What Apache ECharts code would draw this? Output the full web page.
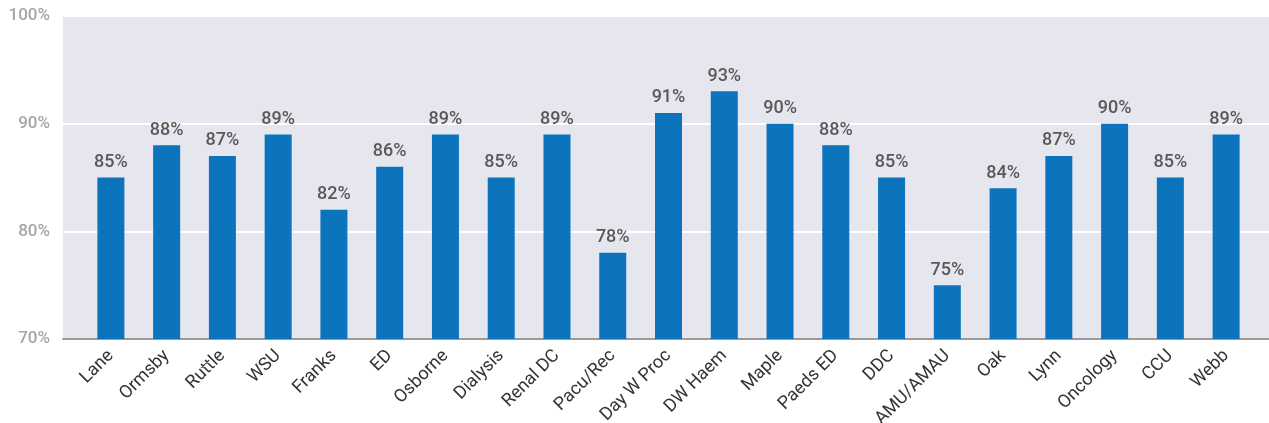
<!DOCTYPE html>
<html>
<head>
<meta charset="utf-8">
<script src="https://cdn.jsdelivr.net/npm/echarts@6/dist/echarts.min.js"></script>
<style>
  html, body { margin: 0; padding: 0; background: #ffffff; }
  #chart { width: 1269px; height: 423px; }
</style>
</head>
<body>
<div id="chart"></div>
<script>
"use strict";

var wards = ['Lane', 'Ormsby', 'Ruttle', 'WSU', 'Franks', 'ED', 'Osborne', 'Dialysis', 'Renal DC',
  'Pacu/Rec', 'Day W Proc', 'DW Haem', 'Maple', 'Paeds ED', 'DDC', 'AMU/AMAU', 'Oak', 'Lynn',
  'Oncology', 'CCU', 'Webb'];
var scores = [85, 88, 87, 89, 82, 86, 89, 85, 89, 78, 91, 93, 90, 88, 85, 75, 84, 87, 90, 85, 89];
var yTicks = [70, 80, 90, 100];

var chart = echarts.init(document.getElementById('chart'));

var fontName = 'Roboto';

var option = {
  backgroundColor: '#ffffff',
  animation: false,
  grid: [
    // background panel with the value axis
    { left: 63, right: 0, top: 16, bottom: 84, show: true, backgroundColor: '#e6e6ef', borderWidth: 0,
      outerBoundsMode: 'none', containLabel: false },
    // bars
    { left: 83, right: 15, top: 16, bottom: 84, outerBoundsMode: 'none', containLabel: false }
  ],
  xAxis: [
    {
      gridIndex: 0,
      type: 'value',
      min: 0, max: 1,
      axisLine: { show: true, onZero: false, lineStyle: { color: '#9a9a9e', width: 2 } },
      axisTick: { show: false },
      axisLabel: { show: false },
      splitLine: { show: false }
    },
    {
      gridIndex: 1,
      type: 'category',
      data: wards,
      axisLine: { show: false },
      axisTick: { show: false },
      axisLabel: {
        rotate: 45,
        interval: 0,
        margin: 14,
        color: '#333333',
        fontFamily: fontName,
        fontSize: 18
      }
    }
  ],
  yAxis: [
    {
      gridIndex: 0,
      type: 'value',
      min: yTicks[0],
      max: yTicks[yTicks.length - 1],
      interval: 10,
      axisLine: { show: false },
      axisTick: { show: false },
      splitLine: { show: true, lineStyle: { color: '#ffffff', width: 2 } },
      axisLabel: {
        margin: 13,
        color: '#a6a6a6',
        fontFamily: fontName,
        fontWeight: 500,
        fontSize: 17,
        formatter: '{value}%'
      }
    },
    {
      gridIndex: 1,
      type: 'value',
      min: yTicks[0],
      max: yTicks[yTicks.length - 1],
      interval: 10,
      show: false,
      splitLine: { show: false }
    }
  ],
  series: [{
    name: 'Score',
    type: 'bar',
    xAxisIndex: 1,
    yAxisIndex: 1,
    data: scores,
    barWidth: 27,
    itemStyle: { color: '#0b74bc' },
    label: {
      show: true,
      position: 'top',
      distance: 6,
      color: '#595959',
      fontFamily: fontName,
      fontWeight: 500,
      fontSize: 18,
      formatter: '{c}%'
    }
  }]
};

chart.setOption(option);
</script>
</body>
</html>
